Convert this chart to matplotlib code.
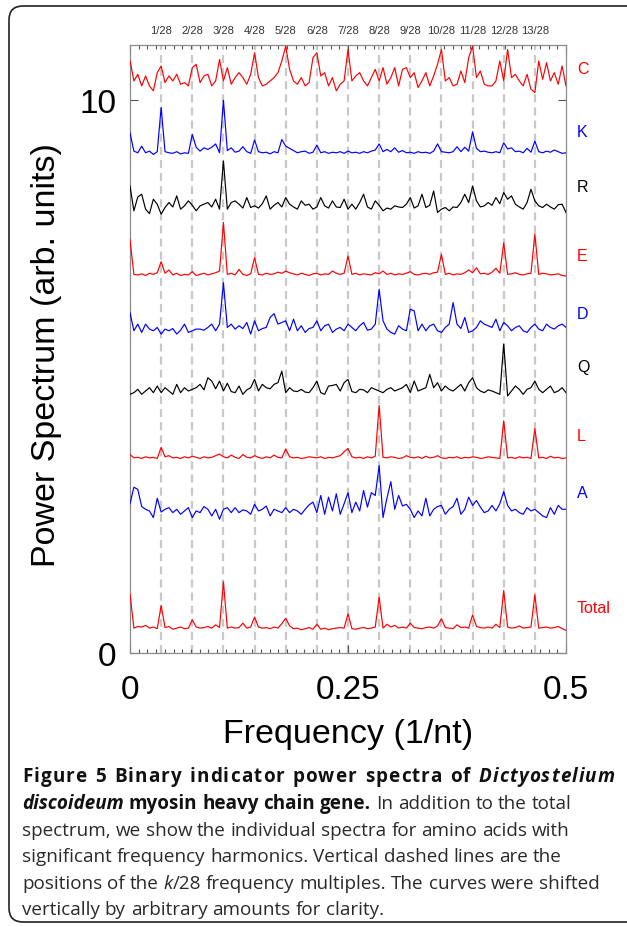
import numpy as np
import matplotlib
matplotlib.use("Agg")
import matplotlib.pyplot as plt
from matplotlib.patches import FancyBboxPatch
from matplotlib.ticker import MultipleLocator, NullLocator
import matplotlib.transforms as mtransforms

# ---------------- data ----------------
n_points = 113
freq = np.linspace(0.0, 0.5, n_points)

C = [0.62,0.25,0.37,0.16,0.34,0.16,0.07,0.40,0.52,0.22,
     0.34,0.25,0.37,0.19,0.22,0.16,0.49,0.55,0.22,0.34,
     0.37,0.16,0.25,0.64,0.25,0.49,0.19,0.31,0.40,0.31,
     0.19,0.37,0.76,0.31,0.16,0.19,0.25,0.31,0.40,0.61,
     0.88,0.46,0.25,0.19,0.31,0.16,0.22,0.67,0.76,0.34,
     0.40,0.16,0.31,0.07,0.19,0.25,0.82,0.25,0.34,0.40,
     0.25,0.16,0.31,0.46,0.25,0.49,0.19,0.31,0.49,0.16,
     0.46,0.49,0.31,0.40,0.13,0.25,0.40,0.16,0.34,0.55,
     0.82,0.25,0.31,0.16,0.19,0.43,0.22,0.67,0.88,0.31,
     0.43,0.19,0.16,0.16,0.25,0.61,0.25,0.82,0.31,0.37,
     0.25,0.16,0.37,0.10,0.04,0.61,0.28,0.58,0.25,0.40,
     0.19,0.52,0.16]

K = [0.46,0.13,0.10,0.22,0.10,0.13,0.07,0.12,0.92,0.12,
     0.10,0.09,0.12,0.08,0.10,0.09,0.43,0.20,0.13,0.19,
     0.16,0.20,0.26,0.10,1.05,0.14,0.19,0.11,0.13,0.21,
     0.12,0.09,0.33,0.12,0.10,0.11,0.08,0.12,0.10,0.34,
     0.22,0.18,0.14,0.10,0.12,0.13,0.09,0.11,0.24,0.10,
     0.12,0.09,0.11,0.10,0.12,0.09,0.13,0.10,0.11,0.09,
     0.12,0.10,0.13,0.15,0.26,0.12,0.16,0.12,0.19,0.11,
     0.14,0.10,0.11,0.09,0.12,0.10,0.11,0.09,0.13,0.26,
     0.12,0.11,0.10,0.12,0.21,0.12,0.20,0.13,0.48,0.18,
     0.12,0.13,0.11,0.10,0.12,0.10,0.28,0.17,0.19,0.12,
     0.13,0.10,0.18,0.11,0.31,0.12,0.10,0.13,0.11,0.15,
     0.12,0.09,0.10]

R = [0.60,0.15,0.40,0.45,0.18,0.10,0.36,0.27,0.09,0.21,
     0.30,0.22,0.42,0.18,0.24,0.33,0.25,0.15,0.24,0.27,
     0.30,0.22,0.36,0.18,1.05,0.18,0.30,0.33,0.27,0.20,
     0.39,0.21,0.24,0.20,0.28,0.42,0.18,0.25,0.30,0.22,
     0.39,0.27,0.22,0.18,0.33,0.25,0.27,0.18,0.22,0.39,
     0.24,0.20,0.33,0.22,0.21,0.36,0.18,0.27,0.18,0.30,
     0.45,0.22,0.18,0.33,0.25,0.15,0.20,0.18,0.24,0.22,
     0.21,0.27,0.39,0.20,0.24,0.45,0.21,0.25,0.51,0.12,
     0.18,0.21,0.15,0.22,0.21,0.30,0.45,0.30,0.60,0.33,
     0.22,0.24,0.30,0.25,0.39,0.28,0.48,0.36,0.42,0.27,
     0.22,0.18,0.30,0.54,0.33,0.24,0.21,0.27,0.22,0.18,
     0.26,0.27,0.12]

E = [0.73,0.10,0.09,0.11,0.08,0.12,0.10,0.13,0.33,0.12,
     0.18,0.09,0.12,0.08,0.10,0.09,0.15,0.08,0.10,0.12,
     0.09,0.11,0.13,0.16,1.04,0.10,0.12,0.09,0.19,0.10,
     0.08,0.11,0.40,0.10,0.09,0.12,0.10,0.11,0.14,0.12,
     0.16,0.13,0.11,0.09,0.12,0.10,0.08,0.11,0.12,0.09,
     0.11,0.10,0.16,0.12,0.10,0.12,0.43,0.10,0.12,0.09,
     0.11,0.10,0.09,0.13,0.11,0.16,0.10,0.12,0.09,0.11,
     0.10,0.12,0.15,0.10,0.09,0.11,0.12,0.10,0.13,0.14,
     0.46,0.10,0.12,0.09,0.11,0.10,0.13,0.18,0.13,0.22,
     0.11,0.12,0.10,0.14,0.21,0.12,0.67,0.10,0.11,0.13,
     0.10,0.09,0.11,0.12,0.83,0.10,0.12,0.11,0.09,0.10,
     0.11,0.08,0.07]

D = [0.44,0.11,0.23,0.08,0.23,0.14,0.11,0.17,0.05,0.14,
     0.11,0.15,0.05,0.12,0.23,0.08,0.11,0.14,0.14,0.12,
     0.17,0.23,0.11,0.23,0.98,0.17,0.23,0.14,0.20,0.15,
     0.26,0.05,0.29,0.11,0.15,0.17,0.35,0.42,0.23,0.26,
     0.29,0.11,0.32,0.11,0.20,0.08,0.15,0.17,0.29,0.11,
     0.20,0.23,0.08,0.14,0.17,0.11,0.23,0.17,0.11,0.20,
     0.26,0.12,0.14,0.23,0.86,0.29,0.14,0.08,0.05,0.20,
     0.14,0.11,0.50,0.47,0.11,0.23,0.11,0.20,0.23,0.11,
     0.08,0.17,0.23,0.62,0.23,0.15,0.35,0.08,0.11,0.17,
     0.29,0.23,0.20,0.17,0.32,0.11,0.26,0.20,0.11,0.17,
     0.20,0.11,0.08,0.17,0.23,0.14,0.11,0.23,0.17,0.14,
     0.20,0.23,0.17]

Q = [0.10,0.13,0.19,0.10,0.16,0.22,0.13,0.25,0.13,0.22,
     0.16,0.10,0.28,0.13,0.22,0.16,0.19,0.22,0.28,0.18,
     0.40,0.34,0.20,0.34,0.16,0.30,0.15,0.13,0.25,0.10,
     0.18,0.22,0.37,0.16,0.28,0.22,0.20,0.28,0.31,0.52,
     0.13,0.22,0.16,0.15,0.19,0.14,0.13,0.22,0.34,0.13,
     0.10,0.25,0.26,0.28,0.16,0.31,0.37,0.15,0.13,0.19,
     0.18,0.13,0.22,0.19,0.16,0.13,0.19,0.22,0.16,0.19,
     0.22,0.28,0.13,0.34,0.16,0.19,0.22,0.46,0.22,0.31,
     0.16,0.25,0.19,0.16,0.22,0.28,0.16,0.31,0.40,0.22,
     0.16,0.13,0.18,0.16,0.13,0.10,1.01,0.07,0.16,0.25,
     0.19,0.10,0.19,0.22,0.34,0.19,0.13,0.19,0.25,0.13,
     0.16,0.22,0.13]

L = [0.12,0.06,0.07,0.05,0.08,0.06,0.07,0.05,0.25,0.08,
     0.10,0.06,0.07,0.05,0.08,0.06,0.09,0.07,0.05,0.08,
     0.06,0.07,0.10,0.13,0.08,0.06,0.11,0.07,0.05,0.12,
     0.07,0.06,0.10,0.07,0.05,0.08,0.06,0.11,0.07,0.06,
     0.22,0.08,0.06,0.07,0.05,0.06,0.08,0.07,0.06,0.08,
     0.05,0.07,0.06,0.08,0.10,0.17,0.23,0.08,0.06,0.07,
     0.05,0.08,0.06,0.09,1.01,0.07,0.06,0.08,0.07,0.05,
     0.06,0.10,0.07,0.06,0.08,0.05,0.09,0.06,0.07,0.10,
     0.06,0.05,0.07,0.06,0.08,0.05,0.07,0.06,0.08,0.07,
     0.05,0.06,0.08,0.07,0.06,0.05,0.73,0.06,0.07,0.05,
     0.08,0.06,0.07,0.05,0.59,0.06,0.07,0.05,0.09,0.06,
     0.07,0.05,0.06]

A = [0.30,0.60,0.56,0.25,0.20,0.17,0.05,0.40,0.15,0.20,
     0.23,0.14,0.20,0.11,0.17,0.23,0.05,0.17,0.14,0.25,
     0.20,0.08,0.20,0.02,0.20,0.23,0.14,0.23,0.14,0.19,
     0.17,0.11,0.29,0.17,0.20,0.26,0.08,0.20,0.17,0.14,
     0.23,0.14,0.20,0.17,0.11,0.20,0.28,0.33,0.14,0.45,
     0.11,0.42,0.17,0.48,0.11,0.30,0.50,0.14,0.33,0.17,
     0.54,0.24,0.50,0.45,0.99,0.05,0.40,0.70,0.20,0.45,
     0.26,0.29,0.20,0.05,0.17,0.08,0.40,0.08,0.20,0.25,
     0.27,0.11,0.20,0.25,0.40,0.11,0.20,0.42,0.27,0.36,
     0.24,0.14,0.17,0.27,0.17,0.30,0.52,0.27,0.17,0.20,
     0.14,0.11,0.23,0.17,0.20,0.14,0.08,0.05,0.23,0.11,
     0.27,0.20,0.20]

Total = [0.72,0.10,0.13,0.12,0.15,0.10,0.12,0.09,0.51,0.11,
         0.13,0.08,0.10,0.12,0.09,0.10,0.25,0.12,0.10,0.11,
         0.13,0.10,0.16,0.11,0.94,0.10,0.12,0.10,0.11,0.19,
         0.10,0.12,0.30,0.12,0.10,0.11,0.09,0.12,0.10,0.18,
         0.28,0.14,0.09,0.10,0.07,0.09,0.11,0.08,0.17,0.08,
         0.10,0.07,0.09,0.10,0.11,0.10,0.36,0.09,0.08,0.10,
         0.11,0.09,0.10,0.12,0.66,0.10,0.17,0.12,0.15,0.10,
         0.12,0.10,0.19,0.11,0.10,0.09,0.11,0.12,0.10,0.14,
         0.27,0.11,0.10,0.09,0.16,0.11,0.12,0.10,0.34,0.13,
         0.11,0.10,0.12,0.10,0.17,0.11,0.78,0.12,0.10,0.11,
         0.14,0.10,0.11,0.12,0.70,0.10,0.11,0.12,0.10,0.11,
         0.13,0.09,0.06]

series_names = ["C", "K", "R", "E", "D", "Q", "L", "A", "Total"]
series_values = [C, K, R, E, D, Q, L, A, Total]
series_offsets = [10.1, 8.95, 7.85, 6.75, 5.72, 4.58, 3.47, 2.4, 0.35]
series_colors = ["#ff0000", "#0000ff", "#000000", "#ff0000", "#0000ff",
                 "#000000", "#ff0000", "#0000ff", "#ff0000"]
label_y = [10.58, 9.44, 8.44, 7.20, 6.15, 5.18, 3.93, 2.90, 0.83]

harmonic_k = list(range(1, 14))
harmonic_labels = [f"{k}/28" for k in harmonic_k]

x_ticks = [0, 0.25, 0.5]
x_ticklabels = ["0", "0.25", "0.5"]
y_ticks = [0, 10]
y_ticklabels = ["0", "10"]

# ---------------- figure ----------------
W, H, DPI = 627, 928, 100
plt.rcParams['font.family'] = ['Liberation Sans', 'DejaVu Sans']
fig = plt.figure(figsize=(W / DPI, H / DPI), dpi=DPI)
fig.patch.set_facecolor("white")

ax = fig.add_axes([130 / W, 1 - 654 / H, 436 / W, 608 / H])
ax.set_xlim(0, 0.5)
ax.set_ylim(0, 11)

for k in harmonic_k:
    ax.axvline(k / 28, color="#c8c8c8", lw=1.6, ls=(0, (3.6, 2.3)), zorder=1)

for vals, off, col in zip(series_values, series_offsets, series_colors):
    v = np.asarray(vals, dtype=float)
    assert len(v) == n_points
    ax.plot(freq, v + off, color=col, lw=0.85, zorder=3)

trans_lab = mtransforms.blended_transform_factory(ax.transAxes, ax.transData)
for name, yy, col in zip(series_names, label_y, series_colors):
    ax.text(1.025, yy, name, transform=trans_lab, ha="left", va="center",
            fontsize=11.5, color=col, clip_on=False)

trans_top = mtransforms.blended_transform_factory(ax.transData, ax.transAxes)
for k, lab in zip(harmonic_k, harmonic_labels):
    ax.text(k / 28, (654 - 31) / 608, lab, transform=trans_top, ha="center",
            va="center", fontsize=8, color="#333333", clip_on=False)

ax.set_xticks(x_ticks)
ax.set_xticklabels(x_ticklabels)
ax.xaxis.set_minor_locator(MultipleLocator(0.01))
ax.set_yticks(y_ticks)
ax.set_yticklabels(y_ticklabels)
ax.yaxis.set_minor_locator(NullLocator())
ax.tick_params(which="both", direction="in", top=True, right=True,
               color="#555555", width=0.8)
ax.tick_params(which="major", length=6, labelsize=24)
ax.tick_params(axis="x", which="major", pad=15)
ax.tick_params(axis="y", which="major", pad=10)
ax.tick_params(which="minor", length=3)
for sp in ax.spines.values():
    sp.set_color("#8a8a8a")
    sp.set_linewidth(0.9)

fig.text(348 / W, 1 - 735 / H, "Frequency (1/nt)", ha="center", va="center",
         fontsize=24.5)
fig.text(47 / W, 1 - 355 / H, "Power Spectrum (arb. units)", ha="center",
         va="center", rotation=90, fontsize=24.5)

# border
border = FancyBboxPatch((0.09, 0.05), 7.0, 9.16,
                        boxstyle="round,pad=0,rounding_size=0.14",
                        transform=fig.dpi_scale_trans, fill=False,
                        ec="#222222", lw=1.2, clip_on=False)
fig.add_artist(border)

# ---------------- caption ----------------
renderer = fig.canvas.get_renderer()
CAP_FAM = ['Open Sans', 'DejaVu Sans']
CAP_SIZE = 13.6
STY = {
    'b': dict(fontweight='bold', fontstyle='normal', color='#111111'),
    'bi': dict(fontweight='bold', fontstyle='italic', color='#111111'),
    'r': dict(fontweight='normal', fontstyle='normal', color='#2a2a2a'),
    'i': dict(fontweight='normal', fontstyle='italic', color='#2a2a2a'),
}


def text_w(s, sty):
    t = fig.text(0, 0, s, family=CAP_FAM, fontsize=CAP_SIZE, **STY[sty])
    w = t.get_window_extent(renderer).width
    t.remove()
    return w


def space_w(sty):
    return text_w("n n", sty) - text_w("nn", sty)


def put(x, base_y, s, sty):
    fig.text(x / W, 1 - base_y / H, s, family=CAP_FAM, fontsize=CAP_SIZE,
             ha="left", va="baseline", **STY[sty])


def draw_line(tokens, x0, base_y):
    x = x0
    for i, (w, s, sp) in enumerate(tokens):
        if sp and i > 0:
            x += space_w(s)
        put(x, base_y, w, s)
        x += text_w(w, s)


def draw_line_tracked(tokens, x0, x1, base_y, space_weight=3.0):
    # justified: extra room shared between letter gaps and (more) word gaps
    glyphs = []  # (char, style, natural_left, cumulative_gap_weight)
    x = 0.0
    wsum = 0.0
    first = True
    for i, (w, s, sp) in enumerate(tokens):
        if sp and i > 0:
            x += space_w(s)
            wsum += space_weight
        for j, ch in enumerate(w):
            if not first and j > 0:
                wsum += 1.0
            first = False
            pre = text_w(w[:j + 1], s)
            left = x + pre - text_w(ch, s)
            glyphs.append((ch, s, left, wsum))
        x += text_w(w, s)
    natural = x
    extra = (x1 - x0 - natural) / max(wsum, 1.0)
    for ch, s, left, cw in glyphs:
        put(x0 + left + cw * extra, base_y, ch, s)


def words(s, sty):
    return [(w, sty, True) for w in s.split()]


line1 = words("Figure 5 Binary indicator power spectra of", 'b') + [("Dictyostelium", 'bi', True)]
line2 = [("discoideum", 'bi', True)] + words("myosin heavy chain gene.", 'b') + \
    words("In addition to the total", 'r')
line3 = words("spectrum, we show the individual spectra for amino acids with", 'r')
line4 = words("significant frequency harmonics. Vertical dashed lines are the", 'r')
line5 = words("positions of the", 'r') + [("k", 'i', True), ("/28", 'r', False)] + \
    words("frequency multiples. The curves were shifted", 'r')
line6 = words("vertically by arbitrary amounts for clarity.", 'r')

X0 = 22
draw_line_tracked(line1, X0, 615, 782)
draw_line(line2, X0, 809)
draw_line(line3, X0, 836)
draw_line(line4, X0, 862)
draw_line(line5, X0, 889)
draw_line(line6, X0, 915)

fig.savefig("out.png", dpi=DPI, facecolor="white")
